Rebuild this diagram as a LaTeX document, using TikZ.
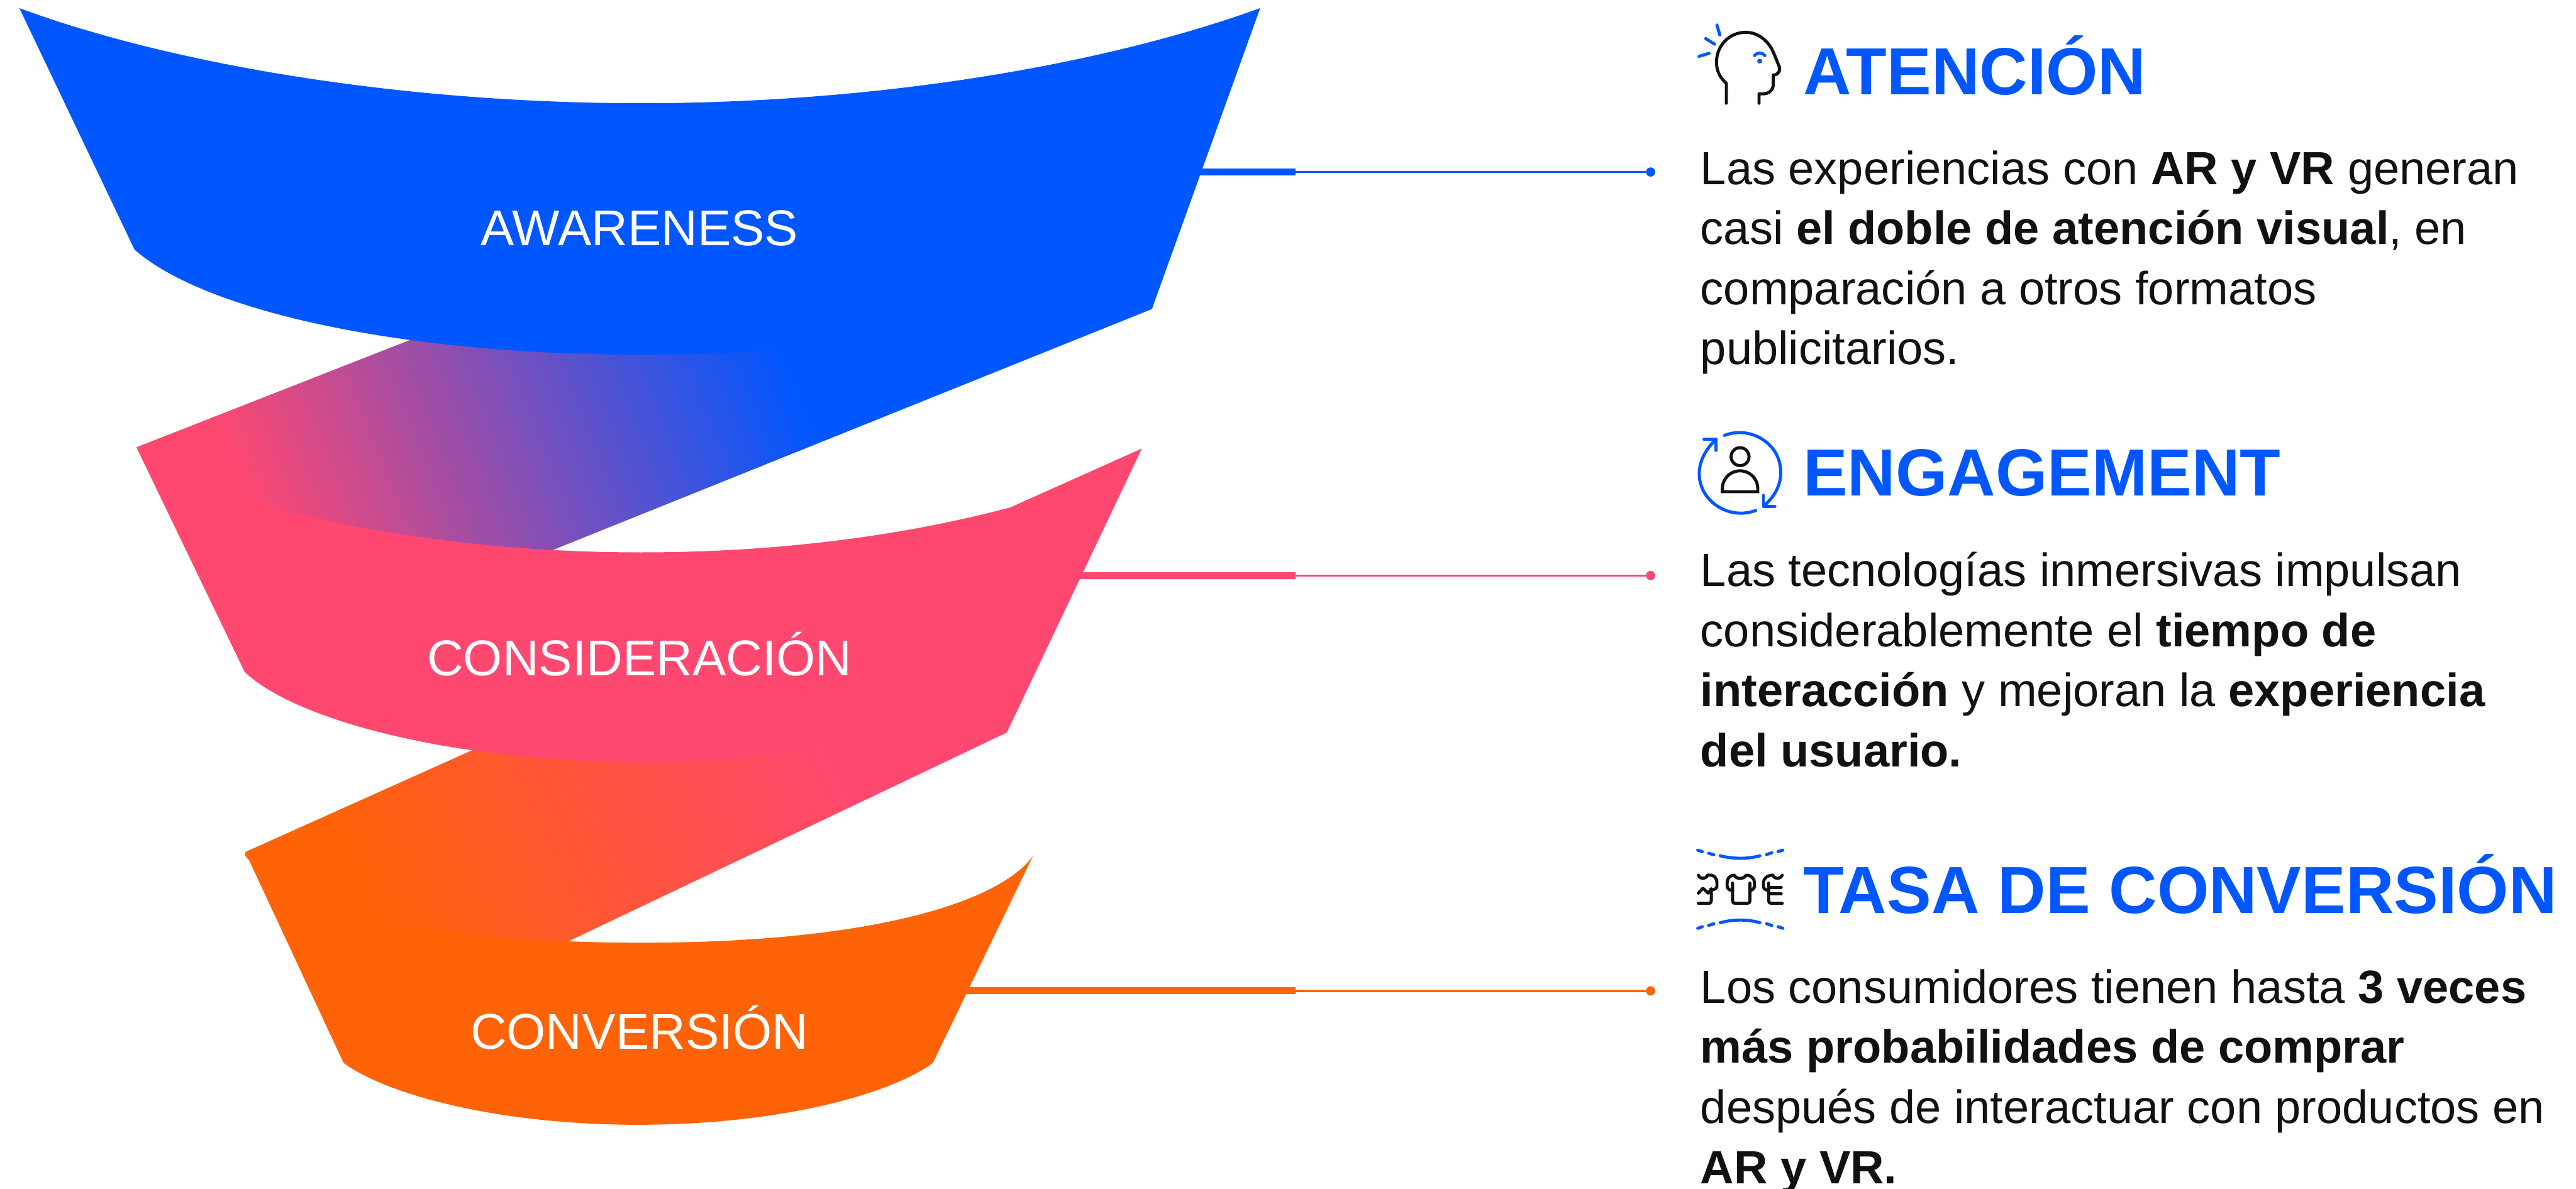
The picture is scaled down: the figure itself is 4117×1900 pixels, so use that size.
\documentclass[tikz,border=0pt]{standalone}
\usepackage{fontspec}
\setmainfont{Liberation Sans}
\definecolor{cblue}{RGB}{0,87,255}
\definecolor{cpink}{RGB}{255,72,112}
\definecolor{corange}{RGB}{255,99,8}
\definecolor{cink}{RGB}{17,17,17}
\tikzset{
  x=0.01cm,y=-0.01cm,
  stagelabel/.style={text=white,inner sep=0pt,font=\fontsize{22.85pt}{27pt}\selectfont},
  headtitle/.style={text=cblue,inner sep=0pt,anchor=base west,font=\fontsize{30.28pt}{36pt}\selectfont\bfseries},
  bodytext/.style={text=cink,inner sep=0pt,anchor=north west,align=left,font=\fontsize{21.17pt}{27.3pt}\selectfont},
  leaderdot/.style={circle,inner sep=0pt,minimum size=4.2pt,draw=none},
  leaderbar/.style={line width=3.13pt},
  leaderthin/.style={line width=1pt},
  iconblack/.style={draw=cink,line width=1.4pt,line cap=round,line join=round},
  iconblue/.style={draw=cblue,line width=1.4pt,line cap=round,line join=round},
}
\begin{document}
\begin{tikzpicture}
\path[use as bounding box,fill=white] (0,0) rectangle (4117,1900);

% band blue -> pink
\begin{scope}
\clip (218,715) -- (700,526) -- (1000,400) -- (1870,300) -- (1841,494) -- (884,879) -- (860,889) -- (433,830) -- cycle;
\begin{scope}[transform canvas={rotate around={22:(349,700)}}]
\fill[cpink] (-1000,-1000) rectangle (350,2500);
\fill[cblue] (1236,-1000) rectangle (3500,2500);
\shade[left color=cpink,right color=cblue] (349,-1000) rectangle (1237,2500);
\end{scope}
\end{scope}
% band pink -> orange
\begin{scope}
\clip (392,1362) -- (753,1200) -- (1000,1100) -- (1500,1000) -- (1655,1074) -- (1609,1171) -- (910,1504) -- (885,1516) -- (500,1520) -- (430,1440) -- cycle;
\begin{scope}[transform canvas={rotate around={24.5:(531,1330)}}]
\fill[corange] (-1000,-1000) rectangle (532,3500);
\fill[cpink] (1310,-1000) rectangle (3500,3500);
\shade[left color=corange,right color=cpink] (531,-1000) rectangle (1311,3500);
\end{scope}
\end{scope}

% leaders
\node[leaderdot,fill=cblue] (d1) at (2638,275) {};
\node[leaderdot,fill=cpink] (d2) at (2638,920) {};
\node[leaderdot,fill=corange] (d3) at (2638,1584) {};
\coordinate (s1) at (1900,275); \coordinate (m1) at (2071,275);
\coordinate (s2) at (1700,920); \coordinate (m2) at (2071,920);
\coordinate (s3) at (1520,1584); \coordinate (m3) at (2071,1584);
\draw[leaderbar,cblue] (s1) -- (m1); \draw[leaderthin,cblue] (m1) -- (d1);
\draw[leaderbar,cpink] (s2) -- (m2); \draw[leaderthin,cpink] (m2) -- (d2);
\draw[leaderbar,corange] (s3) -- (m3); \draw[leaderthin,corange] (m3) -- (d3);

% funnels
\fill[cblue] (31,13) .. controls (280,105) and (650,165) .. (1024,165)
  .. controls (1400,165) and (1760,105) .. (2014,13) -- (1841,494) -- (1833,399)
  .. controls (1718,500) and (1398,567) .. (1024,567)
  .. controls (650,567) and (330,500) .. (215,399) -- cycle;
\fill[cpink] (218,715) -- (394,801) .. controls (590,855) and (800,883) .. (1024,883)
  .. controls (1250,883) and (1450,855) .. (1615,811) -- (1825,717) -- (1609,1171) -- (1655,1074)
  .. controls (1576,1150) and (1326,1218) .. (1024,1218)
  .. controls (720,1218) and (470,1150) .. (391,1074) -- cycle;
\fill[corange] (392,1362) -- (392,1368) .. controls (445,1440) and (648,1507) .. (1024,1507)
  .. controls (1400,1507) and (1600,1440) .. (1651,1368) -- (1491,1699)
  .. controls (1422,1750) and (1244,1798) .. (1020,1798)
  .. controls (796,1798) and (618,1750) .. (549,1699) -- cycle;

% funnel labels
\node[stagelabel] (l1) at (1022,365) {AWARENESS};
\node[stagelabel] (l2) at (1022,1046) {CONSIDERACIÓN};
\node[stagelabel] (l3) at (1022,1643) {CONVERSIÓN};

% titles
\node[headtitle] (t1) at (2881,151) {ATENCIÓN};
\node[headtitle] (t2) at (2881,793) {ENGAGEMENT};
\node[headtitle] (t3) at (2881,1460) {TASA DE CONVERSIÓN};

% body text
\node[bodytext] (b1) at (2717,240) {Las experiencias con \textbf{AR y VR} generan\\casi \textbf{el doble de atención visual}, en\\comparación a otros formatos\\publicitarios.};
\node[bodytext] (b2) at (2717,882) {Las tecnologías inmersivas impulsan\\considerablemente el \textbf{tiempo de}\\\textbf{interacción} y mejoran la \textbf{experiencia}\\\textbf{del usuario.}};
\node[bodytext] (b3) at (2717,1549) {Los consumidores tienen hasta \textbf{3 veces}\\\textbf{más probabilidades de comprar}\\después de interactuar con productos en\\\textbf{AR y VR.}};

% icon 1
\begin{scope}[shift={(2680,20)},scale=1/3]
\draw[iconblack] (237,435) -- (237,340) .. controls (205,310) and (190,280) .. (190,238)
  .. controls (190,160) and (250,95) .. (330,95) .. controls (385,95) and (430,130) .. (455,175)
  .. controls (470,205) and (480,235) .. (492,262) .. controls (497,280) and (485,298) .. (465,300)
  (462,300) -- (462,345) .. controls (462,372) and (440,390) .. (415,390) -- (394,390) -- (394,435);
\draw[iconblue] (192,60) -- (206,108) (138,125) -- (181,152) (106,210) -- (154,196);
\draw[iconblue] (372,207) .. controls (385,190) and (410,190) .. (422,207);
\fill[cblue] (397,233) circle[radius=12];
\end{scope}

% icon 2
\begin{scope}[shift={(2680,670)},scale=1/3]
\draw[iconblue] (228,78) .. controls (340,35) and (460,100) .. (490,200)
  .. controls (515,290) and (480,360) .. (418,416);
\draw[iconblue] (415,365) -- (415,418) -- (470,418);
\draw[iconblue] (378,438) .. controls (280,475) and (170,430) .. (125,340)
  .. controls (85,255) and (115,165) .. (188,97);
\draw[iconblue] (130,97) -- (188,97) -- (188,150);
\draw[iconblack] (303,180) circle[radius=43];
\draw[iconblack,line cap=butt,line join=miter] (218,348) -- (388,348) -- (388,335)
  .. controls (388,285) and (350,248) .. (303,248) .. controls (256,248) and (218,285) .. (218,335) -- cycle;
\end{scope}

% icon 3
\begin{scope}[shift={(2680,1340)},scale=1/3]
\draw[iconblue] (100,57) -- (122,64) (152,72) -- (177,79)
  (208,84) .. controls (270,100) and (340,100) .. (398,84)
  (430,78) -- (455,70) (485,64) -- (508,57);
\draw[iconblue] (100,432) -- (122,424) (152,418) -- (177,410)
  (208,405) .. controls (270,388) and (340,388) .. (398,405)
  (430,410) -- (455,418) (485,424) -- (508,432);
\draw[iconblack] (103,177) .. controls (112,198) and (138,198) .. (147,177) -- (165,177)
  .. controls (182,180) and (192,195) .. (192,212) -- (192,232) .. controls (192,240) and (180,247) .. (168,247);
\draw[iconblack] (103,263) -- (125,240) -- (150,263) -- (165,242) -- (165,300) .. controls (165,308) and (160,312) .. (155,312) -- (103,312);
\draw[iconblack] (267,215) -- (267,300) .. controls (267,308) and (272,312) .. (278,312) -- (338,312)
  .. controls (345,312) and (350,308) .. (350,300) -- (350,215);
\draw[iconblack] (267,250) .. controls (250,250) and (241,240) .. (241,230) -- (241,212)
  .. controls (241,192) and (255,177) .. (275,177) .. controls (285,198) and (320,198) .. (332,177)
  .. controls (355,177) and (372,192) .. (372,212) -- (372,230) .. controls (372,240) and (362,250) .. (350,250);
\draw[iconblack] (505,177) .. controls (495,198) and (470,198) .. (460,177)
  .. controls (435,177) and (415,192) .. (415,212) -- (415,232) .. controls (415,242) and (428,250) .. (440,250);
\draw[iconblack] (440,215) -- (440,300) .. controls (440,308) and (445,312) .. (452,312) -- (505,312);
\draw[iconblack] (440,235) -- (500,235) (440,267) -- (500,267);
\end{scope}
\end{tikzpicture}
\end{document}
